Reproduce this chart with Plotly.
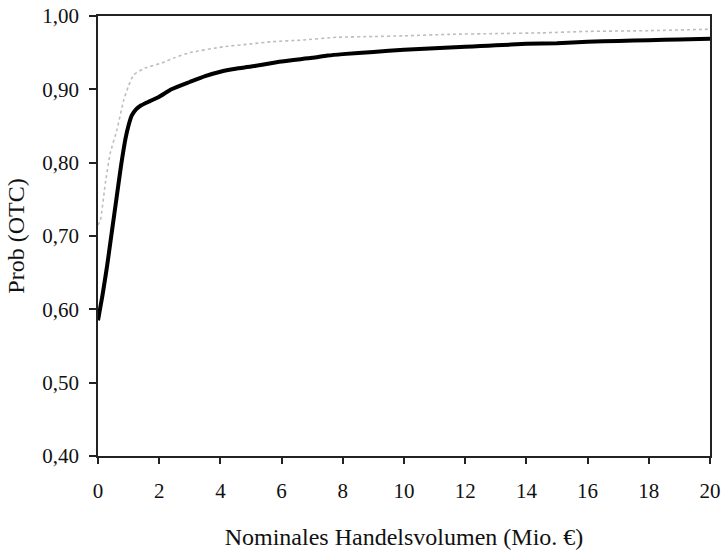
import plotly.graph_objects as go

# Black (solid) curve
x_black = [0, 0.15, 0.3, 0.45, 0.6, 0.75, 0.9, 1.0, 1.1, 1.25, 1.4, 1.7, 2.0, 2.4, 3.0, 3.5, 4.0, 4.5, 5.0, 6.0, 7.0, 7.5, 8.0, 9.0, 10.0,
           11.0, 12.0, 12.5, 13.0, 14.0, 15.0, 16.0, 17.0, 18.0, 19.0, 20.0]
y_black = [0.585, 0.62, 0.66, 0.705, 0.75, 0.795, 0.833, 0.851, 0.864, 0.873, 0.878, 0.884, 0.890, 0.900, 0.910, 0.918, 0.924, 0.928,
           0.931, 0.938, 0.943, 0.946, 0.948, 0.951, 0.954, 0.956, 0.958, 0.959, 0.960, 0.962, 0.963, 0.965, 0.966, 0.967, 0.968, 0.969]

# Grey (dotted) curve
x_grey = [0, 0.08, 0.24, 0.4, 0.62, 0.84, 1.0, 1.17, 1.54, 2.09, 2.5, 3.0, 4.1, 5.0, 5.7, 6.6, 7.8, 9.0, 10.0, 11.5, 13.0,
          14.5, 16.0, 18.0, 20.0]
y_grey = [0.715, 0.722, 0.772, 0.813, 0.845, 0.885, 0.905, 0.920, 0.929, 0.936, 0.943, 0.950, 0.958, 0.962, 0.965, 0.967, 0.971,
          0.972, 0.973, 0.975, 0.976, 0.977, 0.979, 0.980, 0.982]

x_ticks = list(range(0, 21, 2))
y_ticks = [0.40, 0.50, 0.60, 0.70, 0.80, 0.90, 1.00]

fig = go.Figure()
fig.add_trace(go.Scatter(x=x_grey, y=y_grey, mode="lines",
                         line=dict(color="#bdbdbd", width=1.6, dash="dot", shape="spline", smoothing=0.5),
                         showlegend=False, hoverinfo="skip"))
fig.add_trace(go.Scatter(x=x_black, y=y_black, mode="lines",
                         line=dict(color="#000000", width=4, shape="spline", smoothing=0.5),
                         showlegend=False, hoverinfo="skip"))

fam = "Liberation Serif, Times New Roman, serif"
font = dict(family=fam, size=21, color="#111111")

fig.update_layout(
    width=722, height=550,
    margin=dict(l=98, r=12, t=16, b=94, autoexpand=False),
    paper_bgcolor="white", plot_bgcolor="white",
    separators=",.",
    font=font,
    xaxis=dict(range=[0, 20], tickvals=x_ticks, ticks="outside", ticklen=6, tickwidth=1.5,
               tickcolor="#222", showline=True, linecolor="#222", linewidth=1.5, mirror=True,
               showgrid=False, zeroline=False, tickfont=font, automargin=False, ticklabelstandoff=9,
               title=dict(text="Nominales Handelsvolumen (Mio. €)", font=dict(family=fam, size=24, color="#111"),
                          standoff=26)),
    yaxis=dict(range=[0.40, 1.00], tickvals=y_ticks, tickformat=".2f", ticks="outside", ticklen=7, tickwidth=1.5,
               tickcolor="#222", showline=True, linecolor="#222", linewidth=1.5, mirror=True,
               showgrid=False, zeroline=False, tickfont=font, automargin=False, ticklabelstandoff=6,
               title=dict(text="Prob (OTC)", font=dict(family=fam, size=24, color="#111"),
                          standoff=11)),
)

fig.write_html("out.html", config={"displayModeBar": False},
               post_script="document.body.style.margin='0';document.body.style.overflow='hidden';")
